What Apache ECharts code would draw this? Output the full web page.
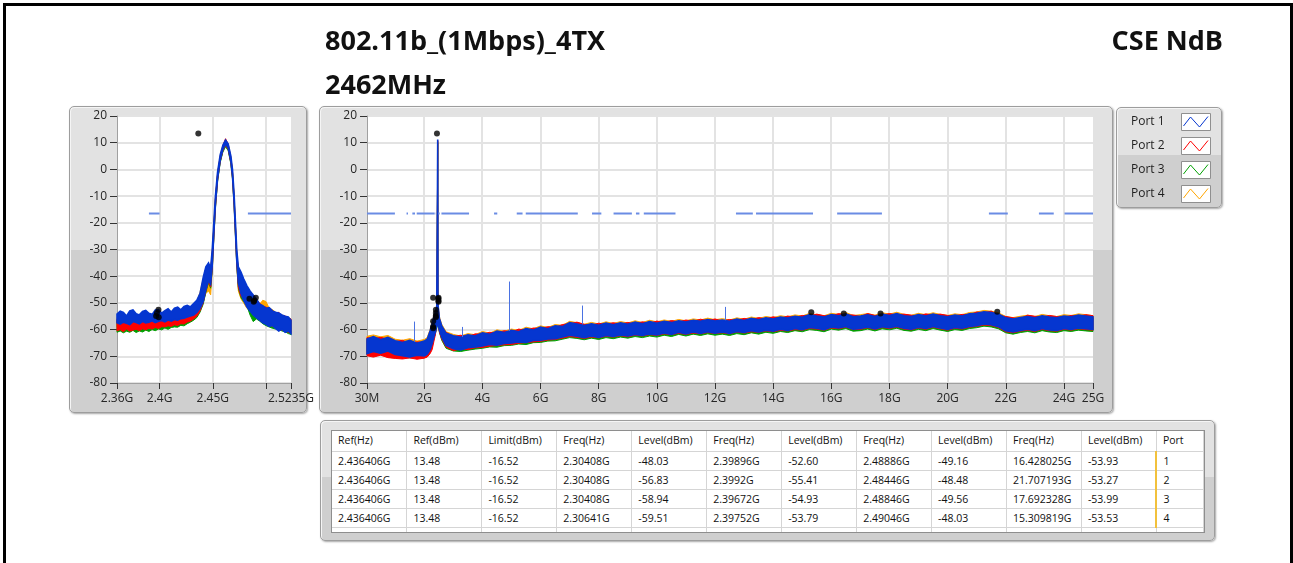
<!DOCTYPE html>
<html>
<head>
<meta charset="utf-8">
<title>802.11b_(1Mbps)_4TX 2462MHz CSE NdB</title>
<script src="https://cdn.jsdelivr.net/npm/echarts@6/dist/echarts.min.js"></script>
<style>
  html, body { margin: 0; padding: 0; background: #fff; }
  body { width: 1293px; height: 563px; overflow: hidden; position: relative; font-family: 'Open Sans', sans-serif; }
  .frame { position: absolute; left: 3px; top: 3px; width: 1284px; height: 620px; border: 3px solid #000; border-bottom: none; }
  .panel { position: absolute; box-sizing: border-box; border: 1px solid #9d9d9d; border-radius: 5px;
    background: linear-gradient(to bottom, #e2e2e2 0%, #e2e2e2 47%, #cfcfcf 47%, #cfcfcf 100%);
    box-shadow: 1px 1px 2px rgba(0,0,0,0.35), inset 1px 1px 0 #f5f5f5; }
  #tbl { position: absolute; left: 331px; top: 430px; width: 872px; height: 101px; border: 1px solid #8e8e8e;
    background: #fff; overflow: hidden; }
  #tbl table { border-collapse: collapse; table-layout: fixed; font-family: 'Open Sans', sans-serif; font-size: 10.5px; color: #111; }
  #tbl td { height: 18px; padding: 0 0 0 6px; border-right: 1px solid #d5d5d5; border-bottom: 1px solid #d5d5d5;
    white-space: nowrap; overflow: hidden; box-sizing: border-box; line-height: 18px; }
  #tbl tr.head td { height: 20px; line-height: 19px; }
  #tbl td.port { border-left: 2px solid #f2c13c; }
  #chart { position: absolute; left: 0; top: 0; width: 1293px; height: 563px; }
</style>
</head>
<body>
<div class="frame"></div>
<div class="panel" style="left:69px;top:106px;width:238px;height:307px;"></div>
<div class="panel" style="left:319px;top:106px;width:794px;height:307px;"></div>
<div class="panel" style="left:1116px;top:107px;width:106px;height:101px;"></div>
<div class="panel" style="left:320px;top:420px;width:895px;height:121px;"></div>
<div id="tbl"></div>
<div id="chart"></div>
<script>
// ---------- titles ----------
const titleMain = '802.11b_(1Mbps)_4TX';
const titleSub = '2462MHz';
const titleRight = 'CSE NdB';

// ---------- ports ----------
const portNames = ['Port 1', 'Port 2', 'Port 3', 'Port 4'];
const portIds = [1, 2, 3, 4];
const portColors = ['#0536d0', '#ff0000', '#00a000', '#ffa500'];

// ---------- result table (GHz / dBm) ----------
const tableHeaders = ['Ref(Hz)', 'Ref(dBm)', 'Limit(dBm)', 'Freq(Hz)', 'Level(dBm)', 'Freq(Hz)', 'Level(dBm)',
  'Freq(Hz)', 'Level(dBm)', 'Freq(Hz)', 'Level(dBm)', 'Port'];
const refFreq = [2.436406, 2.436406, 2.436406, 2.436406];
const refLevel = [13.48, 13.48, 13.48, 13.48];
const limitLevel = [-16.52, -16.52, -16.52, -16.52];
const lowEdgeFreq = [2.30408, 2.30408, 2.30408, 2.30641];
const lowEdgeLevel = [-48.03, -56.83, -58.94, -59.51];
const bandLowFreq = [2.39896, 2.3992, 2.39672, 2.39752];
const bandLowLevel = [-52.60, -55.41, -54.93, -53.79];
const bandHighFreq = [2.48886, 2.48446, 2.48846, 2.49046];
const bandHighLevel = [-49.16, -48.48, -49.56, -48.03];
const spurMaxFreq = [16.428025, 21.707193, 17.692328, 15.309819];
const spurMaxLevel = [-53.93, -53.27, -53.99, -53.53];

// ---------- axes ----------
const yMin = -80, yMax = 20, yStep = 10;
const zoomMin = 2.36, zoomMax = 2.5235;
const zoomTickValues = [2.36, 2.4, 2.45, 2.5, 2.5235];
const zoomLabelValues = [2.36, 2.4, 2.45, 2.5235];
const zoomLabelTexts = ['2.36G', '2.4G', '2.45G', '2.5235G'];
const zoomGridValues = [2.4, 2.45, 2.5];
const sweepMin = 0.03, sweepMax = 25;
const sweepTickValues = [0.03, 2, 4, 6, 8, 10, 12, 14, 16, 18, 20, 22, 24, 25];
const sweepLabelTexts = ['30M', '2G', '4G', '6G', '8G', '10G', '12G', '14G', '16G', '18G', '20G', '22G', '24G', '25G'];
const sweepGridValues = [2, 4, 6, 8, 10, 12, 14, 16, 18, 20, 22, 24];

// ---------- limit line segments (GHz) ----------
const limitStart = [0.03, 1.39, 1.59, 1.74, 2.39, 2.483, 2.59, 4.40, 5.18, 5.49, 7.77, 8.51, 9.28, 9.55, 12.72, 13.41, 16.20, 21.42, 23.14, 24.02];
const limitEnd   = [0.99, 1.44, 1.68, 2.358, 2.40, 2.53, 3.54, 4.51, 5.38, 7.28, 8.09, 9.14, 9.40, 10.64, 13.30, 15.37, 17.74, 22.07, 23.65, 25.0];

// ---------- spurs on the full sweep (Port 1) ----------
const spurFreq  = [1.65, 3.31, 4.93, 7.41, 12.33];
const spurBase  = [-64.5, -62.8, -60.5, -58.0, -56.5];
const spurPeak  = [-57.0, -59.0, -42.0, -51.0, -51.5];

// ---------- zoomed trace envelopes (GHz, dBm max / min per bin) ----------
const zoomFreq = [
  2.360, 2.363, 2.366, 2.369, 2.372, 2.375, 2.378, 2.381, 2.384, 2.387,
  2.390, 2.393, 2.396, 2.399, 2.402, 2.405, 2.408, 2.411, 2.414, 2.417,
  2.420, 2.423, 2.426, 2.429, 2.432, 2.435, 2.438, 2.441, 2.4435, 2.446,
  2.448, 2.4495, 2.451, 2.4525, 2.4545, 2.457, 2.4595, 2.462, 2.4645, 2.467,
  2.4685, 2.470, 2.4712, 2.4725, 2.474, 2.4765, 2.479, 2.482, 2.485, 2.488,
  2.491, 2.494, 2.497, 2.500, 2.503, 2.506, 2.509, 2.512, 2.515, 2.518,
  2.521, 2.5235];
const zoomHiP1 = [
  -54.2, -53.1, -53.6, -54.9, -53.0, -52.6, -54.1, -54.5, -53.2, -52.8,
  -53.9, -54.3, -52.7, -52.5, -53.8, -52.9, -52.2, -53.4, -52.0, -51.6,
  -52.6, -51.3, -50.9, -51.5, -50.2, -49.0, -46.5, -40.5, -36.5, -35.0,
  -37.0, -30.0, -20.0, -10.0, -1.0, 5.5, 9.0, 11.0, 9.5, 5.0,
  0.0, -9.0, -19.0, -30.0, -36.5, -38.5, -41.0, -43.5, -45.5, -47.0,
  -48.5, -50.5, -51.0, -52.0, -51.8, -53.0, -53.5, -53.8, -54.5, -55.0,
  -55.3, -56.5];
const zoomLoP1 = [
  -57.4, -57.9, -57.2, -57.6, -58.1, -57.0, -57.3, -57.8, -56.9, -57.5,
  -57.2, -56.7, -57.4, -56.9, -56.6, -57.1, -56.4, -56.8, -56.2, -56.5,
  -55.9, -55.7, -55.3, -54.9, -54.5, -53.6, -52.0, -49.5, -45.0, -41.5,
  -43.0, -36.0, -24.0, -13.0, -3.5, 3.5, 7.5, 9.5, 8.0, 3.0,
  -2.5, -12.0, -22.5, -34.0, -42.5, -46.5, -49.0, -51.5, -53.0, -54.5,
  -55.5, -56.5, -57.5, -58.0, -58.8, -58.5, -59.5, -60.5, -59.8, -61.0,
  -60.5, -61.5];
const zoomHiP2 = [
  -56.0, -55.5, -56.5, -55.8, -56.2, -55.4, -56.6, -55.9, -56.3, -55.6,
  -56.0, -55.2, -55.8, -55.0, -55.5, -54.8, -55.3, -54.6, -55.0, -54.2,
  -54.7, -53.8, -54.0, -52.5, -52.0, -50.5, -47.5, -41.5, -37.0, -35.5,
  -37.5, -31.0, -21.0, -10.5, -1.5, 5.0, 9.0, 11.5, 9.5, 4.5,
  -0.5, -10.0, -20.0, -31.0, -37.5, -39.0, -42.5, -44.0, -46.5, -47.5,
  -49.0, -50.0, -51.5, -51.5, -52.5, -52.8, -54.0, -53.5, -55.0, -54.8,
  -56.0, -56.0];
const zoomLoP2 = [
  -60.5, -60.0, -60.8, -59.8, -60.6, -60.2, -59.9, -60.4, -59.7, -60.1,
  -59.5, -59.8, -59.2, -59.6, -58.9, -59.0, -58.6, -58.8, -58.2, -58.5,
  -57.8, -57.9, -57.2, -56.8, -56.0, -55.0, -53.0, -50.0, -45.5, -42.0,
  -44.0, -37.0, -25.0, -14.0, -4.0, 3.0, 7.0, 9.0, 7.5, 2.5,
  -3.0, -13.0, -23.5, -35.0, -44.0, -47.5, -48.5, -50.5, -52.5, -53.5,
  -55.0, -56.0, -57.0, -57.5, -58.0, -58.8, -59.0, -59.5, -60.2, -60.5,
  -61.0, -61.5];
const zoomHiP3 = [
  -56.5, -57.0, -56.8, -56.2, -57.0, -56.4, -56.9, -56.3, -56.8, -56.0,
  -56.6, -55.9, -56.4, -55.6, -56.1, -55.4, -55.8, -55.0, -55.6, -54.8,
  -55.2, -54.4, -54.5, -53.0, -52.5, -51.0, -48.0, -42.0, -37.5, -36.0,
  -38.0, -31.5, -21.5, -11.0, -2.0, 4.5, 8.0, 10.0, 8.5, 4.0,
  -1.0, -10.5, -20.5, -31.5, -38.0, -40.0, -43.0, -45.0, -47.0, -48.5,
  -49.5, -51.0, -52.0, -52.5, -53.0, -53.5, -54.2, -54.5, -55.0, -55.5,
  -56.0, -56.5];
const zoomLoP3 = [
  -61.0, -60.5, -61.2, -60.6, -61.0, -60.3, -61.1, -60.5, -60.9, -60.2,
  -60.7, -60.0, -60.4, -59.8, -60.1, -59.4, -59.9, -59.2, -59.0, -59.1,
  -58.4, -58.6, -57.8, -57.2, -56.5, -55.5, -53.5, -50.5, -46.0, -42.5,
  -44.5, -37.5, -25.5, -14.5, -4.5, 2.5, 6.5, 8.5, 7.0, 2.0,
  -3.5, -13.5, -24.0, -35.5, -44.5, -48.0, -49.5, -51.0, -54.5, -57.0,
  -56.0, -56.8, -57.8, -58.5, -59.0, -59.5, -59.8, -60.0, -60.5, -60.8,
  -61.5, -61.8];
const zoomHiP4 = [
  -55.5, -55.0, -55.8, -55.2, -55.6, -54.9, -55.5, -55.1, -55.4, -54.8,
  -55.3, -54.6, -55.0, -54.3, -54.8, -54.1, -54.5, -53.8, -54.2, -53.4,
  -53.9, -53.0, -52.8, -51.5, -51.0, -49.5, -46.0, -41.0, -37.0, -36.5,
  -38.5, -31.0, -21.0, -11.0, -1.5, 5.0, 8.5, 10.5, 9.0, 4.5,
  -0.5, -10.0, -20.0, -31.0, -39.0, -40.0, -42.0, -44.5, -46.0, -47.5,
  -49.5, -50.5, -49.0, -49.5, -52.0, -52.5, -53.5, -54.0, -54.5, -55.0,
  -55.5, -56.0];
const zoomLoP4 = [
  -59.0, -58.6, -59.2, -58.8, -59.1, -58.5, -59.0, -58.7, -58.9, -58.4,
  -58.8, -58.2, -58.6, -58.0, -58.3, -57.8, -58.1, -57.5, -57.8, -57.2,
  -57.4, -56.8, -56.3, -55.8, -55.0, -54.0, -52.5, -49.0, -46.5, -45.5,
  -47.0, -38.0, -25.0, -14.0, -4.0, 3.0, 7.0, 9.0, 7.5, 2.5,
  -3.0, -13.0, -23.5, -35.5, -45.5, -48.5, -50.0, -52.0, -53.0, -54.5,
  -55.0, -56.0, -55.5, -56.5, -57.5, -58.0, -58.5, -59.0, -59.5, -60.0,
  -60.5, -61.0];

// ---------- full sweep envelopes (GHz, dBm max / min per bin) ----------
const sweepFreq = [
  0.03, 0.25, 0.5, 0.75, 1, 1.25, 1.5, 1.75, 2, 2.1,
  2.2, 2.27, 2.33, 2.38, 2.43, 2.455, 2.462, 2.47, 2.52, 2.6, 2.75,
  3, 3.25, 3.5, 3.75, 4, 4.25, 4.5, 4.75, 5, 5.25,
  5.5, 5.75, 6, 6.25, 6.5, 6.75, 7, 7.25, 7.5, 7.75,
  8, 8.25, 8.5, 8.75, 9, 9.25, 9.5, 9.75, 10, 10.25,
  10.5, 10.75, 11, 11.25, 11.5, 11.75, 12, 12.25, 12.5, 12.75,
  13, 13.25, 13.5, 13.75, 14, 14.25, 14.5, 14.75, 15, 15.25,
  15.5, 15.75, 16, 16.25, 16.5, 16.75, 17, 17.25, 17.5, 17.75,
  18, 18.25, 18.5, 18.75, 19, 19.25, 19.5, 19.75, 20, 20.25,
  20.5, 20.75, 21, 21.25, 21.5, 21.75, 22, 22.25, 22.5, 22.75,
  23, 23.25, 23.5, 23.75, 24, 24.25, 24.5, 24.75, 25];
const sweepHiP1 = [
  -63.5, -62.6, -63.8, -62.9, -64.2, -64.8, -64.0, -65.1, -64.3, -63.6,
  -60.5, -57.6, -55.2, -53.4, -51.5, -6.0, 11.2, -50.5, -55.8, -58.6, -61.4,
  -62.3, -62.9, -62.0, -62.4, -61.2, -61.8, -60.6, -61.1, -60.3, -60.8,
  -59.6, -60.2, -59.1, -59.7, -58.6, -58.9, -57.4, -57.9, -58.5, -57.8,
  -58.4, -57.6, -58.2, -57.5, -58.0, -57.2, -57.8, -57.0, -57.6, -56.9,
  -57.4, -56.7, -57.2, -56.5, -56.9, -56.2, -56.8, -56.4, -56.9, -56.1,
  -56.6, -55.8, -56.3, -55.6, -56.0, -55.3, -55.7, -55.0, -55.4, -54.4,
  -54.9, -55.3, -54.4, -54.8, -54.1, -55.2, -54.9, -54.5, -55.1, -54.2,
  -54.7, -54.0, -54.8, -55.1, -54.4, -54.9, -54.2, -54.8, -55.2, -54.6,
  -54.9, -54.1, -53.9, -53.3, -53.6, -54.2, -55.6, -56.0, -55.5, -55.1,
  -55.6, -54.8, -55.3, -55.6, -54.9, -55.2, -54.6, -54.9, -55.3];
const sweepLoP1 = [
  -69.0, -68.2, -68.8, -68.0, -69.3, -69.8, -70.2, -69.6, -69.9, -69.2,
  -67.5, -65.2, -62.8, -60.9, -58.8, -57.5, -56.8, -57.6, -60.2, -62.8, -65.9,
  -67.2, -67.6, -66.8, -66.5, -66.1, -65.6, -65.8, -65.2, -65.0, -64.6,
  -64.8, -64.1, -64.0, -63.5, -63.4, -62.8, -62.1, -62.5, -63.0, -62.4,
  -62.9, -62.2, -62.6, -62.0, -62.4, -61.8, -62.2, -61.6, -62.0, -61.3,
  -61.8, -61.0, -61.6, -60.9, -61.4, -60.8, -61.3, -60.9, -61.4, -60.7,
  -61.1, -60.4, -60.9, -60.2, -60.6, -59.9, -60.3, -59.6, -60.0, -59.2,
  -59.5, -60.0, -59.0, -59.4, -58.8, -59.8, -59.6, -59.0, -59.7, -58.9,
  -59.3, -58.7, -59.5, -59.8, -59.1, -59.6, -58.8, -59.4, -59.9, -59.2,
  -59.5, -58.8, -58.5, -57.9, -58.2, -58.9, -60.4, -60.9, -60.3, -59.9,
  -60.4, -59.6, -60.1, -60.3, -59.6, -59.9, -59.4, -59.7, -59.9];
const sweepHiP2 = [
  -63.0, -63.4, -62.9, -63.6, -64.5, -64.0, -65.2, -64.6, -64.8, -64.5,
  -62.5, -60.0, -57.5, -55.5, -52.5, -7.0, 10.8, -51.0, -56.0, -59.0, -61.0,
  -62.6, -62.1, -62.7, -61.6, -61.8, -61.0, -61.3, -60.4, -60.9, -59.8,
  -60.3, -59.4, -59.6, -58.9, -59.2, -58.1, -57.8, -57.2, -58.0, -58.4,
  -57.6, -58.1, -57.4, -58.0, -57.3, -57.9, -57.1, -57.6, -56.8, -57.4,
  -56.6, -57.1, -56.4, -56.9, -56.1, -56.7, -56.0, -56.8, -56.2, -56.5,
  -55.8, -56.3, -55.5, -56.0, -55.2, -55.8, -54.9, -55.5, -54.7, -54.9,
  -54.2, -54.8, -54.9, -54.0, -54.6, -54.5, -55.1, -54.0, -54.7, -54.6,
  -54.0, -54.5, -54.2, -54.6, -54.9, -54.1, -54.6, -54.2, -54.7, -54.9,
  -54.3, -54.5, -53.4, -53.7, -53.1, -54.6, -55.1, -55.6, -55.9, -54.6,
  -55.0, -55.3, -54.7, -55.1, -55.4, -54.7, -55.0, -54.4, -54.8];
const sweepLoP2 = [
  -69.8, -70.3, -69.6, -70.5, -70.8, -71.0, -70.6, -71.1, -70.7, -70.3,
  -69.0, -67.5, -64.5, -62.0, -58.5, -57.0, -56.0, -57.0, -61.0, -63.5, -66.5,
  -67.9, -67.2, -67.5, -66.8, -66.7, -66.2, -66.0, -65.7, -65.6, -65.1,
  -64.9, -64.6, -64.4, -63.9, -63.7, -63.2, -62.6, -62.9, -63.3, -62.8,
  -63.1, -62.5, -62.8, -62.3, -62.7, -62.1, -62.4, -61.9, -62.2, -61.6,
  -61.9, -61.4, -61.8, -61.3, -61.6, -61.1, -61.5, -61.2, -61.6, -60.9,
  -61.3, -60.8, -61.0, -60.5, -60.8, -60.3, -60.5, -60.0, -60.2, -59.6,
  -59.8, -60.2, -59.4, -59.7, -59.1, -60.0, -59.9, -59.3, -60.0, -59.2,
  -59.6, -59.0, -59.8, -60.1, -59.4, -59.9, -59.1, -59.7, -60.2, -59.5,
  -59.8, -59.1, -58.8, -58.3, -58.5, -59.2, -60.8, -61.2, -60.6, -60.2,
  -60.7, -59.9, -60.4, -60.6, -59.9, -60.2, -59.7, -60.0, -60.2];
const sweepHiP3 = [
  -64.0, -63.5, -64.2, -63.7, -65.0, -65.3, -64.8, -65.4, -65.0, -64.2,
  -61.5, -58.5, -56.0, -54.0, -52.0, -7.5, 10.0, -51.0, -56.5, -59.5, -62.0,
  -63.0, -63.2, -62.5, -62.8, -61.9, -62.2, -61.4, -61.6, -60.9, -61.2,
  -60.3, -60.6, -59.8, -60.1, -59.2, -59.3, -58.0, -58.4, -58.9, -58.3,
  -58.8, -58.0, -58.6, -57.9, -58.4, -57.7, -58.2, -57.5, -58.0, -57.3,
  -57.8, -57.1, -57.6, -56.9, -57.3, -56.6, -57.2, -56.8, -57.3, -56.5,
  -57.0, -56.2, -56.7, -56.0, -56.4, -55.7, -56.1, -55.4, -55.8, -54.9,
  -55.3, -55.7, -54.8, -55.2, -54.5, -55.6, -55.3, -54.9, -55.5, -54.6,
  -55.1, -54.4, -55.2, -55.5, -54.8, -55.3, -54.6, -55.2, -55.6, -55.0,
  -55.3, -54.5, -54.3, -53.7, -54.0, -54.6, -56.0, -56.4, -55.9, -55.5,
  -56.0, -55.2, -55.7, -56.0, -55.3, -55.6, -55.0, -55.3, -55.7];
const sweepLoP3 = [
  -69.5, -70.0, -69.4, -70.1, -70.4, -70.2, -70.6, -70.4, -70.5, -70.0,
  -68.5, -66.0, -63.5, -61.5, -59.5, -58.0, -57.5, -58.0, -61.0, -64.0, -67.0,
  -68.0, -68.2, -67.7, -67.3, -67.0, -66.5, -66.6, -66.0, -65.9, -65.4,
  -65.6, -64.9, -64.8, -64.3, -64.2, -63.6, -63.0, -63.3, -63.8, -63.2,
  -63.7, -63.0, -63.4, -62.8, -63.2, -62.6, -63.0, -62.4, -62.8, -62.1,
  -62.6, -61.8, -62.4, -61.7, -62.2, -61.6, -62.1, -61.7, -62.2, -61.5,
  -61.9, -61.2, -61.7, -61.0, -61.4, -60.7, -61.1, -60.4, -60.8, -60.0,
  -60.3, -60.8, -59.8, -60.2, -59.6, -60.6, -60.4, -59.8, -60.5, -59.7,
  -60.1, -59.5, -60.3, -60.6, -59.9, -60.4, -59.6, -60.2, -60.7, -60.0,
  -60.3, -59.6, -59.3, -58.7, -59.0, -59.7, -61.2, -61.7, -61.1, -60.7,
  -61.2, -60.4, -60.9, -61.1, -60.4, -60.7, -60.2, -60.5, -60.7];
const sweepHiP4 = [
  -62.5, -62.0, -62.7, -62.2, -63.6, -64.0, -63.4, -64.3, -63.7, -63.0,
  -60.0, -57.0, -54.8, -53.0, -51.0, -6.5, 10.5, -50.0, -55.2, -58.0, -60.8,
  -61.8, -62.4, -61.5, -61.9, -60.7, -61.3, -60.1, -60.6, -59.8, -60.3,
  -59.1, -59.7, -58.6, -59.2, -58.1, -58.4, -56.9, -57.4, -58.0, -57.3,
  -57.9, -57.1, -57.7, -57.0, -57.5, -56.7, -57.3, -56.5, -57.1, -56.4,
  -56.9, -56.2, -56.7, -56.0, -56.4, -55.7, -56.3, -55.9, -56.4, -55.6,
  -56.1, -55.3, -55.8, -55.1, -55.5, -54.8, -55.2, -54.5, -54.9, -53.9,
  -54.4, -54.8, -53.9, -54.3, -53.6, -54.7, -54.4, -54.0, -54.6, -53.7,
  -54.2, -53.5, -54.3, -54.6, -53.9, -54.4, -53.7, -54.3, -54.7, -54.1,
  -54.4, -53.6, -53.4, -52.8, -53.1, -53.7, -55.1, -55.5, -55.0, -54.6,
  -55.1, -54.3, -54.8, -55.1, -54.4, -54.7, -54.1, -54.4, -54.8];
const sweepLoP4 = [
  -68.0, -67.6, -68.2, -67.4, -68.6, -69.0, -69.4, -68.9, -69.1, -68.6,
  -67.0, -64.8, -62.4, -60.5, -58.4, -57.0, -56.5, -57.2, -59.8, -62.4, -65.5,
  -66.8, -67.1, -66.4, -66.0, -65.7, -65.2, -65.4, -64.8, -64.6, -64.2,
  -64.4, -63.7, -63.6, -63.1, -63.0, -62.4, -61.7, -62.1, -62.6, -62.0,
  -62.5, -61.8, -62.2, -61.6, -62.0, -61.4, -61.8, -61.2, -61.6, -60.9,
  -61.4, -60.6, -61.2, -60.5, -61.0, -60.4, -60.9, -60.5, -61.0, -60.3,
  -60.7, -60.0, -60.5, -59.8, -60.2, -59.5, -59.9, -59.2, -59.6, -58.8,
  -59.1, -59.6, -58.6, -59.0, -58.4, -59.4, -59.2, -58.6, -59.3, -58.5,
  -58.9, -58.3, -59.1, -59.4, -58.7, -59.2, -58.4, -59.0, -59.5, -58.8,
  -59.1, -58.4, -58.1, -57.5, -57.8, -58.5, -60.0, -60.5, -59.9, -59.5,
  -60.0, -59.2, -59.7, -59.9, -59.2, -59.5, -59.0, -59.3, -59.5];

// ---------- result table ----------
(function buildTable() {
  const fmtF = v => String(v) + 'G';
  const fmtL = v => v.toFixed(2);
  let html = '<table><colgroup>';
  for (let c = 0; c < tableHeaders.length; c++) html += '<col style="width:' + (c === tableHeaders.length - 1 ? 47 : 75) + 'px">';
  html += '</colgroup><tr class="head">' + tableHeaders.map(h => '<td>' + h + '</td>').join('') + '</tr>';
  for (let i = 0; i < portIds.length; i++) {
    const cells = [fmtF(refFreq[i]), refLevel[i].toFixed(2), fmtL(limitLevel[i]),
      fmtF(lowEdgeFreq[i]), fmtL(lowEdgeLevel[i]), fmtF(bandLowFreq[i]), fmtL(bandLowLevel[i]),
      fmtF(bandHighFreq[i]), fmtL(bandHighLevel[i]), fmtF(spurMaxFreq[i]), fmtL(spurMaxLevel[i])];
    html += '<tr>' + cells.map(t => '<td>' + t + '</td>').join('') + '<td class="port">' + portIds[i] + '</td></tr>';
  }
  html += '<tr>' + tableHeaders.map(() => '<td></td>').join('') + '</tr></table>';
  document.getElementById('tbl').innerHTML = html;
})();

// ---------- chart helpers ----------
const labelColor = '#262626';
const gridLineColor = '#e3e3e3';
const axisLineColor = '#a0a0a0';

function bandSeries(idx, freq, hi, lo, color, strokeWidth) {
  return {
    type: 'custom', xAxisIndex: idx, yAxisIndex: idx, z: 3, silent: true,
    data: [[freq[0], hi[0]]],
    renderItem: function (params, api) {
      const n = Math.min(freq.length, hi.length, lo.length);
      const pts = [];
      for (let i = 0; i < n; i++) pts.push(api.coord([freq[i], hi[i]]));
      for (let i = n - 1; i >= 0; i--) pts.push(api.coord([freq[i], lo[i]]));
      return { type: 'polygon', shape: { points: pts },
        style: { fill: color, stroke: color, lineWidth: strokeWidth, lineJoin: 'miter' } };
    }
  };
}

function vGridSeries(idx, values) {
  return {
    type: 'custom', xAxisIndex: idx, yAxisIndex: idx, z: 1, silent: true,
    data: values.map(v => [v, yMax]),
    renderItem: function (params, api) {
      const cs = params.coordSys;
      const x = Math.round(api.coord([api.value(0), yMax])[0]);
      return { type: 'line', shape: { x1: x, y1: cs.y, x2: x, y2: cs.y + cs.height },
        style: { stroke: gridLineColor, lineWidth: 2 } };
    }
  };
}

function limitSeries(idx) {
  return {
    type: 'custom', xAxisIndex: idx, yAxisIndex: idx, z: 5, silent: true,
    data: limitStart.map((s, i) => [s, limitEnd[i], limitLevel[0]]),
    renderItem: function (params, api) {
      const cs = params.coordSys;
      const a = api.coord([api.value(0), api.value(2)]);
      const b = api.coord([api.value(1), api.value(2)]);
      const x1 = Math.max(a[0], cs.x), x2 = Math.min(b[0], cs.x + cs.width);
      if (x2 <= x1) return null;
      return { type: 'line', shape: { x1: x1, y1: a[1], x2: x2, y2: a[1] },
        style: { stroke: '#6a8ce4', lineWidth: 2 } };
    }
  };
}

function spurSeries(idx) {
  return {
    type: 'custom', xAxisIndex: idx, yAxisIndex: idx, z: 4, silent: true,
    data: spurFreq.map((f, i) => [f, spurBase[i], spurPeak[i]]),
    renderItem: function (params, api) {
      const a = api.coord([api.value(0), api.value(1)]);
      const b = api.coord([api.value(0), api.value(2)]);
      const x = Math.round(a[0]) + 0.5;
      return { type: 'line', shape: { x1: x, y1: a[1], x2: x, y2: b[1] },
        style: { stroke: '#4a72e2', lineWidth: 1 } };
    }
  };
}

function markerSeries(idx) {
  const pts = [[refFreq[0], refLevel[0]]];
  for (let i = 0; i < portIds.length; i++) {
    pts.push([lowEdgeFreq[i], lowEdgeLevel[i]], [bandLowFreq[i], bandLowLevel[i]],
      [bandHighFreq[i], bandHighLevel[i]], [spurMaxFreq[i], spurMaxLevel[i]]);
  }
  return {
    type: 'scatter', xAxisIndex: idx, yAxisIndex: idx, z: 10, silent: true, clip: true,
    symbol: 'circle', symbolSize: 6, itemStyle: { color: '#000' }, data: pts
  };
}

function xAxisCfg(idx, min, max, tickValues, labelValues, labelTexts) {
  return {
    type: 'value', gridIndex: idx, min: min, max: max,
    axisLine: { show: true, onZero: false, lineStyle: { color: axisLineColor, width: 1 } },
    axisTick: { show: true, customValues: tickValues, length: 6, lineStyle: { color: '#333' } },
    axisLabel: {
      customValues: labelValues, margin: 10, color: labelColor, fontSize: 12, fontFamily: 'Open Sans',
      formatter: function (v) {
        const k = labelValues.findIndex(t => Math.abs(t - v) < 1e-9);
        return k >= 0 ? labelTexts[k] : '';
      }
    },
    splitLine: { show: false }
  };
}

function yAxisCfg(idx) {
  return {
    type: 'value', gridIndex: idx, min: yMin, max: yMax, interval: yStep,
    axisLine: { show: true, onZero: false, lineStyle: { color: axisLineColor, width: 1 } },
    axisTick: { show: true, length: 7, lineStyle: { color: '#333' } },
    axisLabel: { margin: 10, color: labelColor, fontSize: 12, fontFamily: 'Open Sans' },
    splitLine: { show: true, lineStyle: { color: gridLineColor, width: 2 } }
  };
}

// ---------- legend (boxes with trace glyphs) ----------
const legendGraphics = portNames.map((name, i) => ({
  type: 'group', x: 1131, y: 113 + i * 24,
  children: [
    { type: 'text', x: 0, y: 9, style: { text: name, fontSize: 12, fontFamily: 'Open Sans', fill: '#1e1e1e', verticalAlign: 'middle' } },
    { type: 'rect', shape: { x: 50.5, y: 0.5, width: 29, height: 17 }, style: { fill: '#fff', stroke: '#8f8f8f', lineWidth: 1 } },
    { type: 'polyline', shape: { points: [[52.5, 13], [59.5, 4], [68.5, 14], [77, 3.5]] },
      style: { stroke: portColors[i], lineWidth: 1, fill: null } }
  ]
}));

const zoomHi = [zoomHiP1, zoomHiP2, zoomHiP3, zoomHiP4];
const zoomLo = [zoomLoP1, zoomLoP2, zoomLoP3, zoomLoP4];
const sweepHi = [sweepHiP1, sweepHiP2, sweepHiP3, sweepHiP4];
const sweepLo = [sweepLoP1, sweepLoP2, sweepLoP3, sweepLoP4];

const series = [vGridSeries(0, zoomGridValues), vGridSeries(1, sweepGridValues)];
// Port 4 is drawn first so Port 1 ends on top
for (let p = portIds.length - 1; p >= 0; p--) {
  const w = p === 0 ? 1.6 : 1;
  series.push(bandSeries(0, zoomFreq, zoomHi[p], zoomLo[p], portColors[p], w));
  series.push(bandSeries(1, sweepFreq, sweepHi[p], sweepLo[p], portColors[p], w));
}
series.push(spurSeries(1), limitSeries(0), limitSeries(1), markerSeries(0), markerSeries(1));

const titleStyle = { fontSize: 27, fontWeight: 'bold', color: '#111', fontFamily: 'Open Sans' };
const chart = echarts.init(document.getElementById('chart'), null, { renderer: 'canvas' });
chart.setOption({
  animation: false,
  backgroundColor: 'transparent',
  textStyle: { fontFamily: 'Open Sans' },
  title: [
    { text: titleMain, left: 325, top: 29, padding: 0, textStyle: titleStyle },
    { text: titleSub, left: 325, top: 73, padding: 0, textStyle: titleStyle },
    { text: titleRight, right: 70, top: 29, padding: 0, textStyle: titleStyle }
  ],
  grid: [
    { left: 117, top: 116, width: 174, height: 267, show: true, backgroundColor: '#fff', borderWidth: 0, containLabel: false },
    { left: 367, top: 116, width: 726, height: 267, show: true, backgroundColor: '#fff', borderWidth: 0, containLabel: false }
  ],
  xAxis: [
    xAxisCfg(0, zoomMin, zoomMax, zoomTickValues, zoomLabelValues, zoomLabelTexts),
    xAxisCfg(1, sweepMin, sweepMax, sweepTickValues, sweepTickValues, sweepLabelTexts)
  ],
  yAxis: [yAxisCfg(0), yAxisCfg(1)],
  graphic: legendGraphics,
  series: series
});
</script>
</body>
</html>
